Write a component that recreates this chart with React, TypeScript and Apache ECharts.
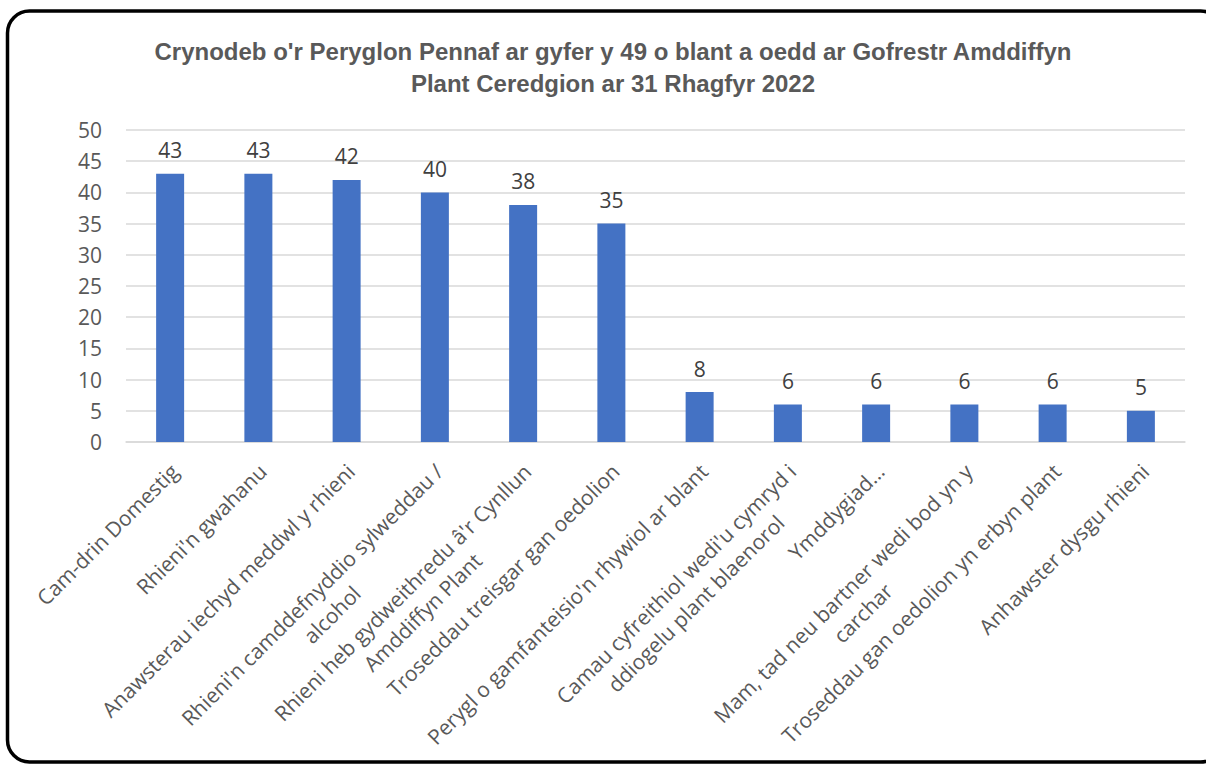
import React, { useEffect, useRef } from "react";
import * as echarts from "echarts";

const titleLines = [
  "Crynodeb o'r Peryglon Pennaf ar gyfer y 49 o blant a oedd ar Gofrestr Amddiffyn",
  "Plant Ceredgion ar 31 Rhagfyr 2022",
];

const categories = [
  "Cam-drin Domestig",
  "Rhieni'n gwahanu",
  "Anawsterau iechyd meddwl y rhieni",
  "Rhieni'n camddefnyddio sylweddau /\nalcohol",
  "Rhieni heb gydweithredu â'r Cynllun\nAmddiffyn Plant",
  "Troseddau treisgar gan oedolion",
  "Perygl o gamfanteisio'n rhywiol ar blant",
  "Camau cyfreithiol wedi'u cymryd i\nddiogelu plant blaenorol",
  "Ymddygiad…",
  "Mam, tad neu bartner wedi bod yn y\ncarchar",
  "Troseddau gan oedolion yn erbyn plant",
  "Anhawster dysgu rhieni",
];

const values = [43, 43, 42, 40, 38, 35, 8, 6, 6, 6, 6, 5];

const yMin = 0;
const yMax = 50;
const yStep = 5;

export default function App() {
  const ref = useRef<HTMLDivElement>(null);
  useEffect(() => {
    document.body.style.margin = "0";
    if (!ref.current) return;
    const chart = echarts.init(ref.current, null, { renderer: "svg" });
    const font = "'Open Sans', 'Noto Sans', sans-serif";
    chart.setOption({
      animation: false,
      backgroundColor: "#ffffff",
      title: {
        text: titleLines.join("\n"),
        left: 608,
        top: 30,
        textAlign: "center",
        textStyle: {
          fontFamily: "'Liberation Sans Narrow', 'Arial Narrow', 'Liberation Sans', sans-serif",
          fontWeight: "bold",
          fontSize: 24,
          lineHeight: 32,
          color: "#595959",
        },
      },
      graphic: [
        {
          type: "rect",
          shape: { x: 7.5, y: 11, width: 1215, height: 751, r: 22 },
          style: { fill: "none", stroke: "#000000", lineWidth: 3.5 },
          z: 100,
        },
      ],
      grid: { left: 126, right: 21, top: 130, bottom: 323, containLabel: false },
      xAxis: {
        type: "category",
        data: categories,
        axisTick: { show: false },
        axisLine: { show: true, lineStyle: { color: "#d9d9d9", width: 1.5 } },
        axisLabel: {
          interval: 0,
          rotate: 45,
          margin: 10,
          padding: [0, 8, 0, 0],
          verticalAlign: "top",
          fontFamily: font,
          fontSize: 21,
          color: "#595959",
          formatter: (v: string) =>
            v
              .split("\n")
              .map((l) => "{c|" + l + "}")
              .join("\n"),
          rich: {
            c: {
              align: "center",
              fontFamily: font,
              fontSize: 21,
              lineHeight: 28,
              color: "#595959",
            },
          },
        },
      },
      yAxis: {
        type: "value",
        min: yMin,
        max: yMax,
        interval: yStep,
        axisLine: { show: false },
        axisTick: { show: false },
        splitLine: { lineStyle: { color: "#d9d9d9", width: 1.5 } },
        axisLabel: {
          fontFamily: font,
          fontSize: 21,
          color: "#595959",
          margin: 24,
        },
      },
      series: [
        {
          type: "bar",
          data: values,
          barWidth: 28,
          itemStyle: { color: "#4472C4" },
          label: {
            show: true,
            position: "top",
            distance: 13,
            fontFamily: font,
            fontSize: 21,
            color: "#404040",
          },
        },
      ],
    });
    return () => chart.dispose();
  }, []);
  return <div ref={ref} style={{ width: 1206, height: 765 }} />;
}
